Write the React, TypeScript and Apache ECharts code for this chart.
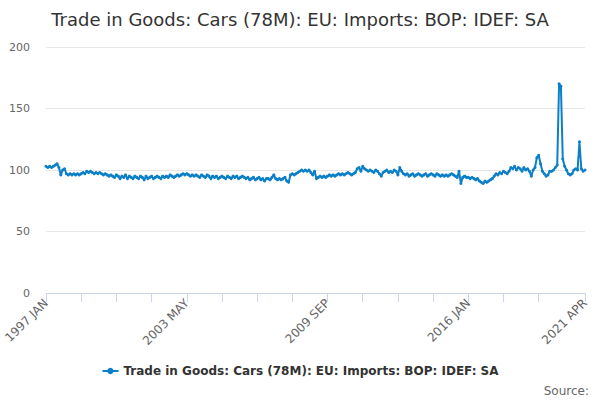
import React, { useEffect, useRef } from "react";
import * as echarts from "echarts";

const TITLE = "Trade in Goods: Cars (78M): EU: Imports: BOP: IDEF: SA";
const MONTHS = ["JAN", "FEB", "MAR", "APR", "MAY", "JUN", "JUL", "AUG", "SEP", "OCT", "NOV", "DEC"];
const FIRST_YEAR = 1997;

const v1997 = [103, 102, 103, 102, 103, 104, 105, 102, 96, 100, 101, 97];
const v1998 = [96, 97, 96, 97, 96, 97, 96, 97, 98, 97, 99, 98];
const v1999 = [99, 98, 97, 98, 97, 98, 97, 96, 97, 96, 95, 96];
const v2000 = [95, 94, 96, 95, 93, 95, 94, 96, 93, 95, 94, 93];
const v2001 = [95, 94, 93, 95, 94, 92, 95, 93, 94, 95, 93, 94];
const v2002 = [95, 94, 93, 95, 94, 95, 94, 96, 95, 94, 95, 96];
const v2003 = [95, 96, 97, 96, 97, 96, 95, 96, 95, 96, 95, 94];
const v2004 = [96, 95, 94, 96, 95, 93, 95, 94, 95, 93, 94, 95];
const v2005 = [94, 93, 95, 94, 93, 95, 94, 95, 93, 94, 95, 94];
const v2006 = [93, 94, 92, 93, 94, 92, 93, 94, 92, 93, 91, 93];
const v2007 = [93, 92, 94, 96, 93, 92, 93, 92, 93, 94, 91, 90];
const v2008 = [96, 97, 96, 97, 98, 99, 100, 99, 100, 99, 100, 98];
const v2009 = [96, 99, 93, 94, 95, 94, 95, 94, 95, 96, 95, 96];
const v2010 = [95, 96, 97, 96, 97, 96, 97, 98, 97, 96, 97, 98];
const v2011 = [101, 102, 99, 103, 101, 100, 99, 100, 99, 98, 100, 99];
const v2012 = [97, 95, 98, 99, 100, 98, 99, 98, 100, 99, 96, 102];
const v2013 = [99, 97, 96, 97, 95, 96, 97, 95, 96, 97, 96, 95];
const v2014 = [96, 97, 95, 96, 97, 96, 95, 97, 96, 95, 96, 95];
const v2015 = [96, 95, 96, 97, 96, 95, 94, 99, 89, 94, 95, 94];
const v2016 = [94, 93, 94, 93, 92, 93, 91, 90, 89, 91, 90, 91];
const v2017 = [92, 93, 95, 97, 96, 98, 97, 99, 98, 97, 99, 102];
const v2018 = [101, 103, 100, 102, 101, 99, 102, 100, 101, 99, 95, 100];
const v2019 = [102, 110, 112, 105, 99, 97, 95, 96, 99, 99, 100, 102];
const v2020 = [104, 170, 168, 109, 103, 100, 97, 96, 97, 100, 101, 100];
const v2021 = [123, 101, 99, 100];

const values: number[] = [
  ...v1997, ...v1998, ...v1999, ...v2000, ...v2001, ...v2002, ...v2003, ...v2004,
  ...v2005, ...v2006, ...v2007, ...v2008, ...v2009, ...v2010, ...v2011, ...v2012,
  ...v2013, ...v2014, ...v2015, ...v2016, ...v2017, ...v2018, ...v2019, ...v2020, ...v2021,
];

const categories: string[] = values.map((_, i) => {
  const y = FIRST_YEAR + Math.floor(i / 12);
  return `${y} ${MONTHS[i % 12]}`;
});

const LAST = values.length - 1;
const FONT = "DejaVu Sans";
const COLOR = "#0b7fc7";

export default function App() {
  const ref = useRef<HTMLDivElement>(null);
  useEffect(() => {
    document.body.style.margin = "0";
    if (!ref.current) return;
    const chart = echarts.init(ref.current, undefined, { renderer: "svg" });
    chart.setOption({
      animation: false,
      textStyle: { fontFamily: FONT },
      title: {
        text: TITLE,
        left: "center",
        top: 5,
        textStyle: { fontFamily: FONT, fontSize: 18, fontWeight: "normal", color: "#333333" },
      },
      legend: {
        bottom: 18,
        left: "center",
        itemWidth: 16,
        itemHeight: 8,
        data: [TITLE],
        textStyle: { fontFamily: FONT, fontSize: 12, fontWeight: "bold", color: "#333333" },
      },
      graphic: [
        {
          type: "text",
          right: 11,
          bottom: 3,
          style: { text: "Source:", fontFamily: FONT, fontSize: 12, fill: "#666666" },
        },
      ],
      grid: { left: 46, right: 15, top: 47, bottom: 107, containLabel: false },
      xAxis: {
        type: "category",
        data: categories,
        boundaryGap: false,
        axisLine: { lineStyle: { color: "#ccd6eb" } },
        axisTick: {
          length: 9,
          lineStyle: { color: "#ccd6eb" },
          interval: (i: number) => (i % 19 === 0 && i <= 266) || i === LAST,
        },
        axisLabel: {
          rotate: 45,
          color: "#666666",
          fontSize: 12,
          fontFamily: FONT,
          margin: 8,
          interval: (i: number) => i % 76 === 0 || i === LAST,
        },
        splitLine: { show: false },
      },
      yAxis: {
        type: "value",
        min: 0,
        max: 200,
        interval: 50,
        axisLine: { show: false },
        axisTick: { show: false },
        axisLabel: { color: "#666666", fontSize: 11, fontFamily: FONT, margin: 16 },
        splitLine: { lineStyle: { color: "#e6e6e6" } },
      },
      series: [
        {
          name: TITLE,
          type: "line",
          data: values,
          color: COLOR,
          lineStyle: { width: 2, color: COLOR },
          symbol: "circle",
          symbolSize: 3,
          itemStyle: { color: COLOR },
          showAllSymbol: true,
        },
      ],
    });
    return () => chart.dispose();
  }, []);
  return <div ref={ref} style={{ width: 600, height: 400 }} />;
}
